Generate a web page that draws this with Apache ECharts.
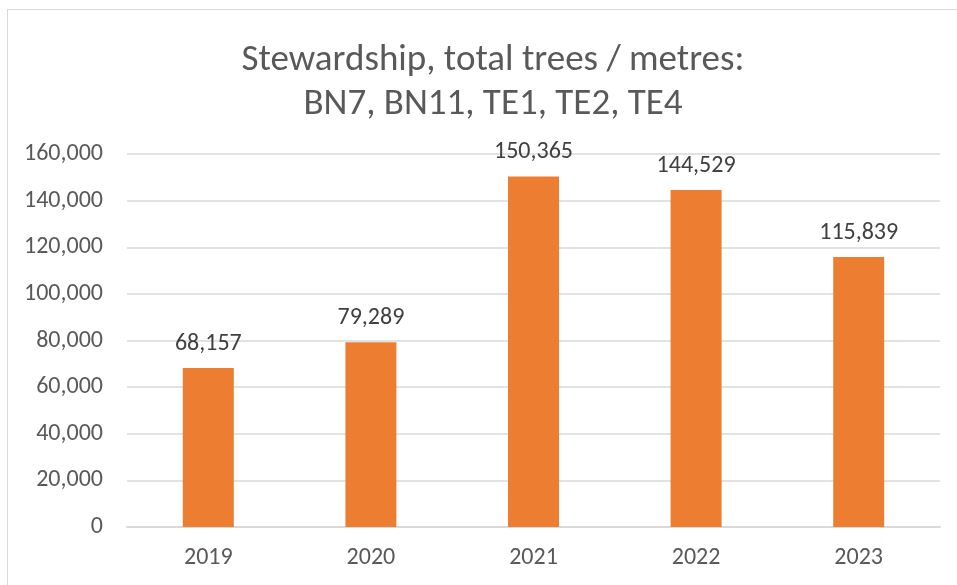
<!DOCTYPE html>
<html>
<head>
<meta charset="utf-8">
<script src="https://cdn.jsdelivr.net/npm/echarts@6/dist/echarts.min.js"></script>
<style>
  html, body { margin: 0; padding: 0; background: #fff; }
  #frame { position: absolute; left: 7px; top: 9px; width: 960px; height: 600px; border: 1px solid #d9d9d9; }
  #chart { position: absolute; left: 0; top: 0; width: 957px; height: 585px; }
</style>
</head>
<body>
<div id="frame"></div>
<div id="chart"></div>
<script>
// 数据
const years = ['2019', '2020', '2021', '2022', '2023'];
const totals = [68157, 79289, 150365, 144529, 115839];
const titleLines = ['Stewardship, total trees / metres:', 'BN7, BN11, TE1, TE2, TE4'];

const fmt = v => v.toLocaleString('en-US');
const font = 'Calibri, Carlito, "Open Sans", "Noto Sans", sans-serif';

const chart = echarts.init(document.getElementById('chart'));
chart.setOption({
  animation: false,
  textStyle: { fontFamily: font },
  title: {
    text: titleLines.join('\n'),
    left: 488,
    top: 34,
    textAlign: 'center',
    textStyle: { fontFamily: font, fontSize: 37, fontWeight: 'normal', color: '#595959', lineHeight: 44 }
  },
  grid: { left: 127, right: 17, top: 154, bottom: 58, containLabel: false },
  xAxis: {
    type: 'category',
    data: years,
    axisLine: { show: true, lineStyle: { color: '#d9d9d9', width: 2 } },
    axisTick: { show: false },
    axisLabel: { color: '#595959', fontSize: 24, margin: 19, fontFamily: font }
  },
  yAxis: {
    type: 'value',
    min: 0,
    max: 160000,
    interval: 20000,
    axisLine: { show: false },
    axisTick: { show: false },
    splitLine: { lineStyle: { color: '#d9d9d9', width: 1.5 } },
    axisLabel: { color: '#595959', fontSize: 24, margin: 24, formatter: fmt, fontFamily: font }
  },
  series: [{
    type: 'bar',
    data: totals,
    barWidth: 51,
    itemStyle: { color: '#ed7d31' },
    label: {
      show: true,
      position: 'top',
      distance: 12,
      color: '#404040',
      fontSize: 24,
      fontFamily: font,
      formatter: p => fmt(p.value)
    }
  }]
});
</script>
</body>
</html>
